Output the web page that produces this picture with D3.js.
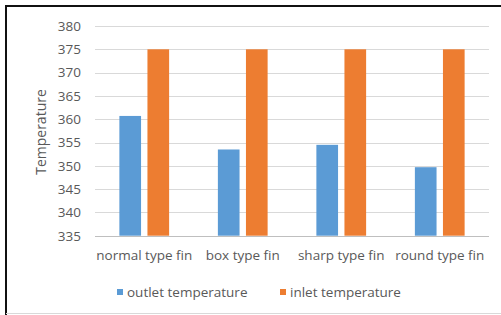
<!DOCTYPE html>
<html><head><meta charset="utf-8">
<script src="https://cdn.jsdelivr.net/npm/d3@7"></script>
<style>body{margin:0;background:#fff}svg{display:block}text{font-family:"Open Sans",sans-serif;fill:#595959}</style>
</head><body>
<script>
const categories = ["normal type fin","box type fin","sharp type fin","round type fin"];
const seriesNames = ["outlet temperature","inlet temperature"];
const outletTemp = [360.7, 353.5, 354.5, 349.7];
const inletTemp = [375, 375, 375, 375];
const yTicks = [335,340,345,350,355,360,365,370,375,380];
const colors = ["#5B9BD5","#ED7D31"];

const W=501,H=315;
const svg=d3.select("body").append("svg").attr("width",W).attr("height",H);
svg.append("rect").attr("x",0).attr("y",0).attr("width",W).attr("height",H).attr("fill","#fff");
svg.append("line").attr("x1",5).attr("x2",W).attr("y1",6).attr("y2",6).attr("stroke","#111").attr("stroke-width",2);
svg.append("line").attr("x1",6).attr("x2",6).attr("y1",5).attr("y2",H).attr("stroke","#111").attr("stroke-width",2);
svg.append("line").attr("x1",6).attr("x2",W).attr("y1",313.5).attr("y2",313.5).attr("stroke","#d9d9d9").attr("stroke-width",1);

const L=95,R=489,T=26,B=235.7;
const x=d3.scaleBand().domain(categories).range([L,R]);
const y=d3.scaleLinear().domain([335,380]).range([B,T]);
const fs="13.5px";

svg.append("g").selectAll("line").data(yTicks).join("line")
  .attr("x1",L).attr("x2",R).attr("y1",d=>Math.round(y(d))+0.5).attr("y2",d=>Math.round(y(d))+0.5)
  .attr("stroke",d=>d===335?"#bfbfbf":"#d9d9d9").attr("stroke-width",1);

const yAxis=svg.append("g").attr("transform",`translate(${L},0)`)
  .call(d3.axisLeft(y).tickValues(yTicks).tickSize(0).tickPadding(14).tickFormat(d3.format("d")));
yAxis.select(".domain").remove();
yAxis.selectAll("text").style("font-size",fs).style("fill","#595959").style("font-family","'Open Sans',sans-serif");

const bw=x.bandwidth()*0.22, gap=x.bandwidth()*0.065;
[outletTemp,inletTemp].forEach((vals,si)=>{
  svg.selectAll(".b"+si).data(categories).join("rect").attr("class","b"+si)
    .attr("x",(c)=>x(c)+x.bandwidth()/2 - bw - gap/2 + si*(bw+gap))
    .attr("width",bw)
    .attr("y",(c,i)=>y(vals[i]))
    .attr("height",(c,i)=>B-y(vals[i]))
    .attr("fill",colors[si]);
});

const xAxis=svg.append("g").attr("transform",`translate(0,${B})`)
  .call(d3.axisBottom(x).tickSize(0).tickPadding(15));
xAxis.select(".domain").remove();
xAxis.selectAll("text").style("font-size",fs).style("fill","#595959").style("font-family","'Open Sans',sans-serif");

svg.append("text").attr("transform","translate(46,132) rotate(-90)").attr("text-anchor","middle")
  .style("font-size","14px").text("Temperature");

const legX=[117,280];
seriesNames.forEach((n,i)=>{
  svg.append("rect").attr("x",legX[i]).attr("y",289).attr("width",6).attr("height",6).attr("fill",colors[i]);
  svg.append("text").attr("x",legX[i]+10).attr("y",292).attr("dy","0.35em").style("font-size",fs).text(n);
});
</script>
</body></html>
